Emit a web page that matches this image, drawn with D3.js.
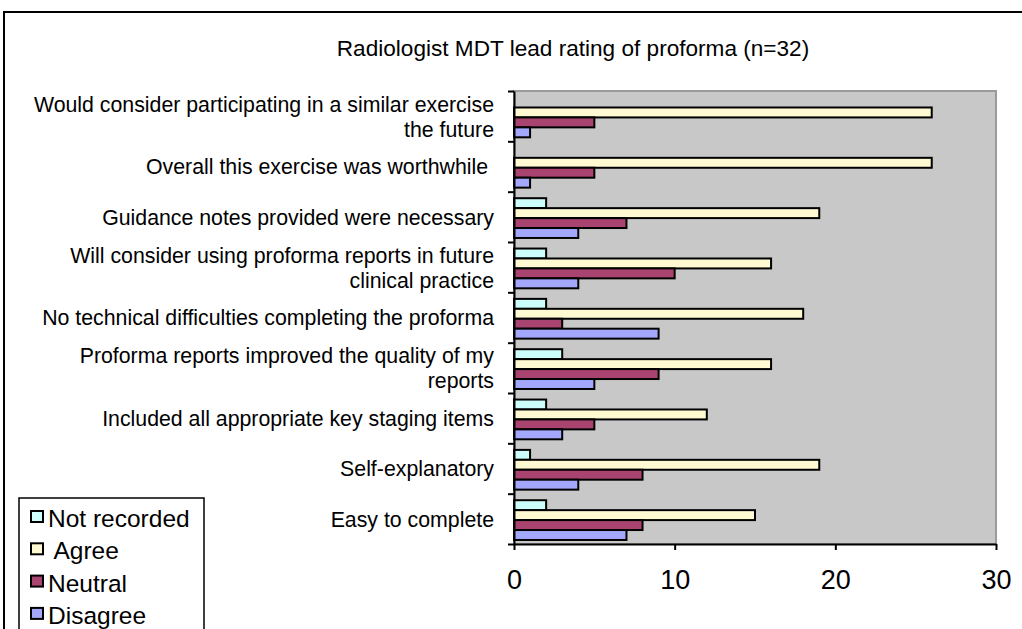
<!DOCTYPE html>
<html>
<head>
<meta charset="utf-8">
<script src="https://cdn.jsdelivr.net/npm/d3@7"></script>
<style>
  body { margin: 0; background: #fff; }
  svg { display: block; font-family: "Liberation Sans", Arial, sans-serif; }
  text { white-space: pre; }
</style>
</head>
<body>
<svg id="chart" width="1022" height="629"></svg>
<script>
// categories top to bottom, multi-line labels split with |
var categories = [
  'Would consider participating in a similar exercise|the future',
  'Overall this exercise was worthwhile ',
  'Guidance notes provided were necessary',
  'Will consider using proforma reports in future|clinical practice',
  'No technical difficulties completing the proforma',
  'Proforma reports improved the quality of my|reports',
  'Included all appropriate key staging items',
  'Self-explanatory',
  'Easy to complete'
];
var seriesNames = ['Not recorded', 'Agree', 'Neutral', 'Disagree'];
var notRecorded = [0, 0, 2, 2, 2, 3, 2, 1, 2];
var agree       = [26, 26, 19, 16, 18, 16, 12, 19, 15];
var neutral     = [5, 5, 7, 10, 3, 9, 5, 8, 8];
var disagree    = [1, 1, 4, 4, 9, 5, 3, 4, 7];
var xTicks = [0, 10, 20, 30];
var colors = ['#ccfffb', '#fffad2', '#a8446f', '#a3a8fd'];

var svg = d3.select('#chart');
var seriesValues = [notRecorded, agree, neutral, disagree];

// outer frame of the chart
svg.append('rect')
  .attr('x', 4).attr('y', 12)
  .attr('width', 1100).attr('height', 700)
  .attr('fill', 'none').attr('stroke', '#000').attr('stroke-width', 2);

var x = d3.scaleLinear().domain([0, 30]).range([514, 996]);
var y = d3.scaleBand().domain(d3.range(categories.length)).range([91, 544]);
var sub = d3.scaleBand().domain(d3.range(4))
  .range([y.bandwidth() * 0.13, y.bandwidth() * 0.92]);

// plot area
svg.append('rect')
  .attr('x', x(0)).attr('y', 91)
  .attr('width', x(30) - x(0)).attr('height', 544 - 91)
  .attr('fill', '#c8c8c8').attr('stroke', '#9a9a9a').attr('stroke-width', 2);

svg.append('text')
  .attr('x', 573).attr('y', 56)
  .attr('text-anchor', 'middle')
  .attr('font-size', 22.6)
  .text('Radiologist MDT lead rating of proforma (n=32)');

// bars
var groups = svg.selectAll('g.cat')
  .data(categories)
  .enter()
  .append('g')
  .attr('class', 'cat')
  .attr('transform', (d, i) => 'translate(0,' + y(i) + ')');

groups.selectAll('rect')
  .data((d, i) => seriesValues.map((s, k) => ({ k: k, v: s[i] })))
  .enter()
  .append('rect')
  .attr('x', x(0))
  .attr('y', d => sub(d.k))
  .attr('width', d => x(d.v) - x(0))
  .attr('height', sub.bandwidth())
  .attr('fill', d => colors[d.k])
  .attr('stroke', '#000')
  .attr('stroke-width', 2)
  .style('display', d => (d.v === 0 ? 'none' : null));

// category labels
groups.append('text')
  .attr('text-anchor', 'end')
  .attr('font-size', 21.3)
  .each(function(d) {
    var lines = d.split('|');
    var t = d3.select(this);
    lines.forEach(function(line, j) {
      t.append('tspan')
        .attr('x', 494)
        .attr('y', y.bandwidth() / 2 + 8 + (j - (lines.length - 1) / 2) * 25)
        .text(line);
    });
  });

// axes
var yLin = d3.scaleLinear().domain([0, categories.length]).range([91, 544]);
svg.append('g')
  .attr('transform', 'translate(' + x(0) + ',0)')
  .call(d3.axisLeft(yLin).tickValues(d3.range(categories.length + 1)).tickFormat('').tickSize(6).tickSizeOuter(0))
  .call(g => g.selectAll('line, path').attr('stroke', '#000').attr('stroke-width', 2));

svg.append('g')
  .attr('transform', 'translate(0,544)')
  .call(d3.axisBottom(x).tickValues(xTicks).tickSize(6).tickSizeOuter(0).tickPadding(20))
  .call(g => g.selectAll('line, path').attr('stroke', '#000').attr('stroke-width', 2))
  .call(g => g.selectAll('text')
    .attr('font-size', 27)
    .attr('font-family', '"Liberation Sans", Arial, sans-serif')
    .attr('fill', '#000'));

// legend
var legend = svg.append('g');
legend.append('rect')
  .attr('x', 19).attr('y', 498)
  .attr('width', 185).attr('height', 200)
  .attr('fill', '#fff').attr('stroke', '#000').attr('stroke-width', 1.5);

var legendLabels = ['Not recorded', ' Agree', 'Neutral', 'Disagree'];
var items = legend.selectAll('g.item')
  .data(seriesNames)
  .enter()
  .append('g')
  .attr('class', 'item')
  .attr('transform', (d, i) => 'translate(31,' + (527 + i * 32.3) + ')');

items.append('rect')
  .attr('x', 0).attr('y', -16)
  .attr('width', 12).attr('height', 11)
  .attr('fill', (d, i) => colors[i])
  .attr('stroke', '#000').attr('stroke-width', 2);

items.append('text')
  .attr('x', 17).attr('y', 0)
  .attr('font-size', 24.5)
  .text((d, i) => legendLabels[i]);
</script>
</body>
</html>
